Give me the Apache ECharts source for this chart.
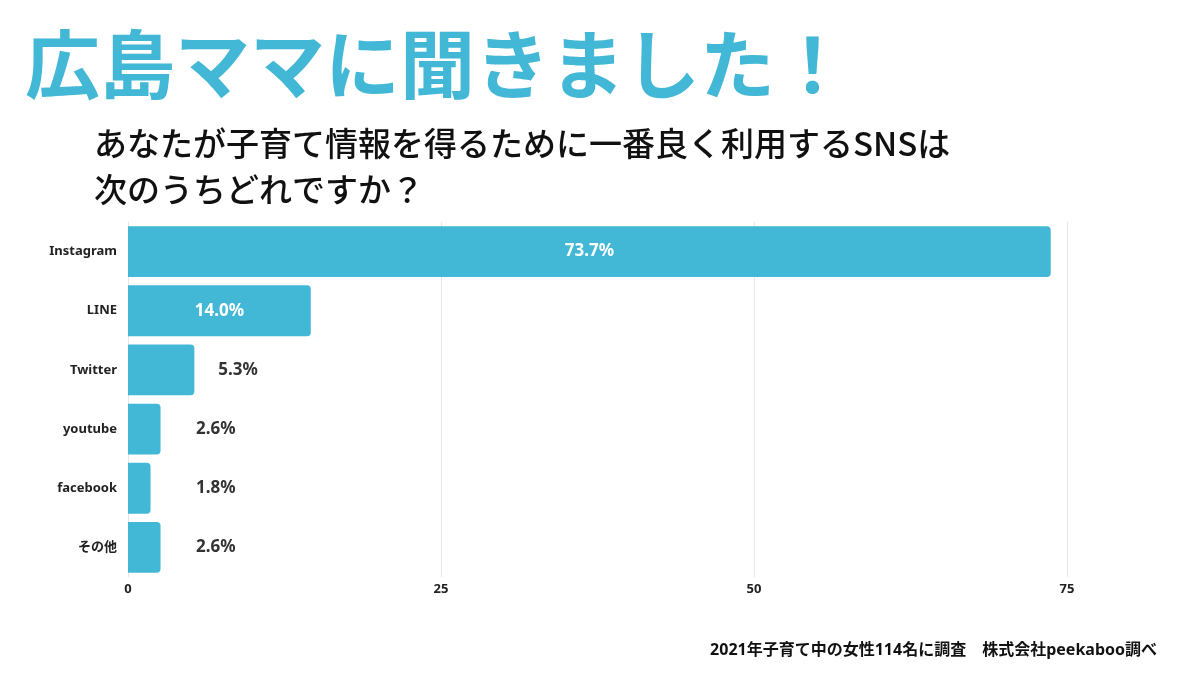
<!DOCTYPE html>
<html><head><meta charset="utf-8">
<script src="https://cdn.jsdelivr.net/npm/echarts@6/dist/echarts.min.js"></script>
<style>html,body{margin:0;padding:0;background:#fff}#c{width:1200px;height:675px}</style>
</head><body><div id="c"></div>
<script>
const categories = ['Instagram','LINE','Twitter','youtube','facebook','その他'];
const values = [73.7, 14.6, 5.3, 2.6, 1.8, 2.6];
const valueLabels = ['73.7%', '14.0%', '5.3%', '2.6%', '1.8%', '2.6%'];
const xTicks = [0, 25, 50, 75];
const titleText = '広島ママに聞きました！';
const questionText = 'あなたが子育て情報を得るために一番良く利用するSNSは\n次のうちどれですか？';
const footerText = '2021年子育て中の女性114名に調査　株式会社peekaboo調べ';

const BLUE = '#42B8D6';
const FONT = '"Noto Sans CJK JP","Noto Sans",sans-serif';
const LFONT = '"Noto Sans","Noto Sans CJK JP",sans-serif';
const chart = echarts.init(document.getElementById('c'));
const data = values.map((v, i) => {
  const inside = v >= 10;
  return {
    value: v,
    labelText: valueLabels[i],
    label: inside
      ? {position: 'inside', color: '#fff'}
      : {position: 'right', color: '#333', distance: Math.max(24, 68 - v * 12.5)}
  };
});
chart.setOption({
  animation: false,
  title: [
    {text: titleText, left: 20, top: 22, textStyle: {fontFamily: FONT, fontSize: 75, fontWeight: 'bold', color: BLUE}},
    {text: questionText, left: 89, top: 115, textStyle: {fontFamily: FONT, fontSize: 33, fontWeight: 500, color: '#111', lineHeight: 46}},
    {text: footerText, right: 38, top: 637, textStyle: {fontFamily: LFONT, fontSize: 16, fontWeight: 'bold', color: '#111'}}
  ],
  grid: {left: 128, right: 133, top: 222, height: 355, containLabel: false},
  xAxis: {
    type: 'value', min: 0, max: 75, interval: 25,
    axisLine: {show: false}, axisTick: {show: false},
    splitLine: {lineStyle: {color: '#e6e6e6', width: 1}},
    axisLabel: {
      margin: 6, fontFamily: LFONT, fontSize: 13, fontWeight: 'bold', color: '#222',
      formatter: v => xTicks.includes(v) ? String(v) : ''
    }
  },
  yAxis: {
    type: 'category', data: categories, inverse: true,
    axisLine: {show: false}, axisTick: {show: false},
    axisLabel: {margin: 11, fontFamily: LFONT, fontSize: 13, fontWeight: 'bold', color: '#222'}
  },
  series: [{
    type: 'bar', data: data, barWidth: '86%',
    itemStyle: {color: BLUE, borderRadius: [0, 4, 4, 0]},
    label: {show: true, fontFamily: LFONT, fontSize: 17, fontWeight: 'bold', formatter: p => p.data.labelText}
  }]
});
</script></body></html>
